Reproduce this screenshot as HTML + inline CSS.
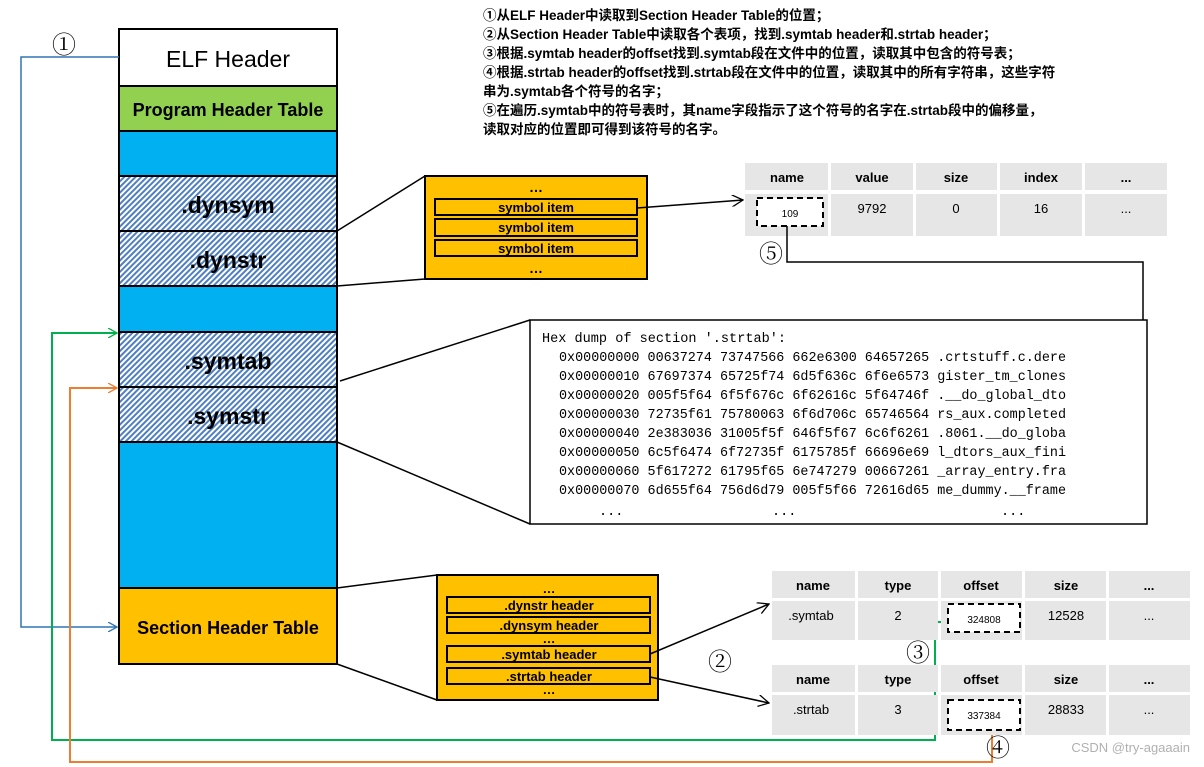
<!DOCTYPE html>
<html><head><meta charset="utf-8"><style>
html,body{margin:0;padding:0;background:#fff;}
svg{display:block;}
.cj{font-family:"Liberation Sans","Noto Sans CJK SC",sans-serif;font-weight:bold;font-size:13.5px;fill:#000;}
.mono{font-family:"Liberation Mono","Noto Sans CJK SC",monospace;font-size:13.5px;fill:#000;}
.b{font-family:"Liberation Sans",sans-serif;font-weight:bold;fill:#000;}
.n{font-family:"Liberation Sans",sans-serif;fill:#000;}
.circ{font-family:"Liberation Serif","Noto Serif CJK SC",serif;font-size:24px;fill:#000;}
</style></head><body>
<svg width="1204" height="767" viewBox="0 0 1204 767" xmlns="http://www.w3.org/2000/svg">
<defs>
<pattern id="h" width="4" height="4" patternUnits="userSpaceOnUse" patternTransform="rotate(45)">
<rect width="4" height="4" fill="#fff"/><rect width="2" height="4" fill="#4f7fc0"/>
</pattern>
<marker id="ab" markerWidth="10" markerHeight="10" refX="9" refY="5" orient="auto" markerUnits="userSpaceOnUse"><path d="M0,0 L9,5 L0,10" fill="none" stroke="#2e75b6" stroke-width="1.3"/></marker>
<marker id="ag" markerWidth="10" markerHeight="10" refX="9" refY="5" orient="auto" markerUnits="userSpaceOnUse"><path d="M0,0 L9,5 L0,10" fill="none" stroke="#00b050" stroke-width="1.3"/></marker>
<marker id="ao" markerWidth="10" markerHeight="10" refX="9" refY="5" orient="auto" markerUnits="userSpaceOnUse"><path d="M0,0 L9,5 L0,10" fill="none" stroke="#ed7d31" stroke-width="1.3"/></marker>
<marker id="ak" markerWidth="12" markerHeight="12" refX="11" refY="6" orient="auto" markerUnits="userSpaceOnUse"><path d="M0,0 L11,6 L0,12" fill="none" stroke="#000" stroke-width="1.3"/></marker>
<marker id="af" markerWidth="10" markerHeight="10" refX="9" refY="5" orient="auto" markerUnits="userSpaceOnUse"><path d="M0,1 L9,5 L0,9 z" fill="#000"/></marker>
</defs>

<!-- top text -->
<text class="cj" x="483" y="20">①从ELF Header中读取到Section Header Table的位置；</text>
<text class="cj" x="483" y="39">②从Section Header Table中读取各个表项，找到.symtab header和.strtab header；</text>
<text class="cj" x="483" y="58">③根据.symtab header的offset找到.symtab段在文件中的位置，读取其中包含的符号表；</text>
<text class="cj" x="483" y="77">④根据.strtab header的offset找到.strtab段在文件中的位置，读取其中的所有字符串，这些字符</text>
<text class="cj" x="483" y="96">串为.symtab各个符号的名字；</text>
<text class="cj" x="483" y="115">⑤在遍历.symtab中的符号表时，其name字段指示了这个符号的名字在.strtab段中的偏移量，</text>
<text class="cj" x="483" y="134">读取对应的位置即可得到该符号的名字。</text>

<!-- main column -->
<g stroke="#000" stroke-width="2">
<rect x="119" y="29" width="218" height="57" fill="#fff"/>
<rect x="119" y="86" width="218" height="45" fill="#92d050"/>
<rect x="119" y="131" width="218" height="45" fill="#00b0f0"/>
<rect x="119" y="176" width="218" height="55" fill="url(#h)"/>
<rect x="119" y="231" width="218" height="55" fill="url(#h)"/>
<rect x="119" y="286" width="218" height="46" fill="#00b0f0"/>
<rect x="119" y="332" width="218" height="55" fill="url(#h)"/>
<rect x="119" y="387" width="218" height="55" fill="url(#h)"/>
<rect x="119" y="442" width="218" height="146" fill="#00b0f0"/>
<rect x="119" y="588" width="218" height="76" fill="#ffc000"/>
</g>
<text class="n" x="228" y="67" font-size="23" text-anchor="middle">ELF Header</text>
<text class="b" x="228" y="116" font-size="18" text-anchor="middle">Program Header Table</text>
<text class="b" x="228" y="213" font-size="23" text-anchor="middle">.dynsym</text>
<text class="b" x="228" y="268" font-size="23" text-anchor="middle">.dynstr</text>
<text class="b" x="228" y="369" font-size="23" text-anchor="middle">.symtab</text>
<text class="b" x="228" y="424" font-size="23" text-anchor="middle">.symstr</text>
<text class="b" x="228" y="634" font-size="18" text-anchor="middle">Section Header Table</text>

<!-- colored connectors -->
<polyline points="119,57 21,57 21,627 117,627" fill="none" stroke="#2e75b6" stroke-width="1.5" marker-end="url(#ab)"/>
<text class="circ" x="52" y="53">①</text>
<polyline points="950,622 935,622 935,740 52,740 52,333 117,333" fill="none" stroke="#00b050" stroke-width="2" marker-end="url(#ag)"/>
<polyline points="992,730 992,762 70,762 70,388 117,388" fill="none" stroke="#ed7d31" stroke-width="2" marker-end="url(#ao)"/>

<!-- symbol box -->
<line x1="337" y1="231" x2="425" y2="176" stroke="#000" stroke-width="1.5"/>
<line x1="337" y1="286" x2="425" y2="279" stroke="#000" stroke-width="1.5"/>
<rect x="425" y="176" width="222" height="103" fill="#ffc000" stroke="#000" stroke-width="2"/>
<text class="b" x="536" y="192" font-size="14" text-anchor="middle">…</text>
<g stroke="#000" stroke-width="2" fill="#ffc000">
<rect x="435" y="199" width="202" height="16"/>
<rect x="435" y="219" width="202" height="17"/>
<rect x="435" y="240" width="202" height="16"/>
</g>
<text class="b" x="536" y="212" font-size="13" text-anchor="middle">symbol item</text>
<text class="b" x="536" y="232" font-size="13" text-anchor="middle">symbol item</text>
<text class="b" x="536" y="253" font-size="13" text-anchor="middle">symbol item</text>
<text class="b" x="536" y="273" font-size="14" text-anchor="middle">…</text>
<line x1="637" y1="208" x2="743" y2="200" stroke="#000" stroke-width="1.5" marker-end="url(#ak)"/>

<!-- symbol table -->
<g fill="#e7e6e6">
<rect x="745" y="163" width="83" height="27"/><rect x="831" y="163" width="82" height="27"/><rect x="916" y="163" width="81" height="27"/><rect x="1000" y="163" width="82" height="27"/><rect x="1085" y="163" width="82" height="27"/>
<rect x="745" y="194" width="83" height="42"/><rect x="831" y="194" width="82" height="42"/><rect x="916" y="194" width="81" height="42"/><rect x="1000" y="194" width="82" height="42"/><rect x="1085" y="194" width="82" height="42"/>
</g>
<g class="b" font-size="13" text-anchor="middle">
<text x="787" y="182">name</text><text x="872" y="182">value</text><text x="956" y="182">size</text><text x="1041" y="182">index</text><text x="1126" y="182">...</text>
</g>
<g class="n" font-size="13" text-anchor="middle">
<text x="872" y="213">9792</text><text x="956" y="213">0</text><text x="1041" y="213">16</text><text x="1126" y="213">...</text>
</g>
<rect x="757" y="198" width="66" height="28" fill="#fff" stroke="#000" stroke-width="2" stroke-dasharray="6,4"/>
<text class="n" x="790" y="217" font-size="10" text-anchor="middle">109</text>
<polyline points="787,226 787,262 1143,262 1143,470 1075,470" fill="none" stroke="#000" stroke-width="1.5" marker-end="url(#af)"/>
<text class="circ" x="759" y="262">⑤</text>

<!-- hex box -->
<line x1="340" y1="381" x2="530" y2="320" stroke="#000" stroke-width="1.5"/>
<line x1="337" y1="442" x2="530" y2="524" stroke="#000" stroke-width="1.5"/>
<rect x="530" y="320" width="617" height="204" fill="#fff" stroke="#000" stroke-width="1.5"/>
<g class="mono">
<text x="542" y="342" textLength="244" lengthAdjust="spacingAndGlyphs">Hex dump of section '.strtab':</text>
<text x="559" y="361" textLength="507" lengthAdjust="spacingAndGlyphs">0x00000000 00637274 73747566 662e6300 64657265 .crtstuff.c.dere</text>
<text x="559" y="380" textLength="507" lengthAdjust="spacingAndGlyphs">0x00000010 67697374 65725f74 6d5f636c 6f6e6573 gister_tm_clones</text>
<text x="559" y="399" textLength="507" lengthAdjust="spacingAndGlyphs">0x00000020 005f5f64 6f5f676c 6f62616c 5f64746f .__do_global_dto</text>
<text x="559" y="418" textLength="507" lengthAdjust="spacingAndGlyphs">0x00000030 72735f61 75780063 6f6d706c 65746564 rs_aux.completed</text>
<text x="559" y="437" textLength="507" lengthAdjust="spacingAndGlyphs">0x00000040 2e383036 31005f5f 646f5f67 6c6f6261 .8061.__do_globa</text>
<text x="559" y="456" textLength="507" lengthAdjust="spacingAndGlyphs">0x00000050 6c5f6474 6f72735f 6175785f 66696e69 l_dtors_aux_fini</text>
<text x="559" y="475" textLength="507" lengthAdjust="spacingAndGlyphs">0x00000060 5f617272 61795f65 6e747279 00667261 _array_entry.fra</text>
<text x="559" y="494" textLength="507" lengthAdjust="spacingAndGlyphs">0x00000070 6d655f64 756d6d79 005f5f66 72616d65 me_dummy.__frame</text>
<text x="599" y="515">...</text><text x="772" y="515">...</text><text x="1001" y="515">...</text>
</g>

<!-- section header box -->
<line x1="337" y1="588" x2="437" y2="575" stroke="#000" stroke-width="1.5"/>
<line x1="337" y1="664" x2="437" y2="700" stroke="#000" stroke-width="1.5"/>
<rect x="437" y="575" width="221" height="125" fill="#ffc000" stroke="#000" stroke-width="2"/>
<g stroke="#000" stroke-width="2" fill="#ffc000">
<rect x="447" y="597" width="203" height="16"/>
<rect x="447" y="617" width="203" height="16"/>
<rect x="447" y="646" width="203" height="16"/>
<rect x="447" y="668" width="203" height="16"/>
</g>
<g class="b" font-size="13" text-anchor="middle">
<text x="549" y="593">…</text>
<text x="549" y="610">.dynstr header</text>
<text x="549" y="630">.dynsym header</text>
<text x="549" y="643">…</text>
<text x="549" y="659">.symtab header</text>
<text x="549" y="681">.strtab header</text>
<text x="549" y="694">…</text>
</g>
<line x1="650" y1="654" x2="769" y2="604" stroke="#000" stroke-width="1.5" marker-end="url(#ak)"/>
<line x1="650" y1="677" x2="769" y2="703" stroke="#000" stroke-width="1.5" marker-end="url(#ak)"/>
<text class="circ" x="708" y="670">②</text>

<!-- section tables -->
<g fill="#e7e6e6">
<rect x="772" y="571" width="83" height="27"/><rect x="858" y="571" width="80" height="27"/><rect x="941" y="571" width="81" height="27"/><rect x="1025" y="571" width="81" height="27"/><rect x="1109" y="571" width="81" height="27"/>
<rect x="772" y="601" width="83" height="39"/><rect x="858" y="601" width="80" height="39"/><rect x="941" y="601" width="81" height="39"/><rect x="1025" y="601" width="81" height="39"/><rect x="1109" y="601" width="81" height="39"/>
<rect x="772" y="665" width="83" height="27"/><rect x="858" y="665" width="80" height="27"/><rect x="941" y="665" width="81" height="27"/><rect x="1025" y="665" width="81" height="27"/><rect x="1109" y="665" width="81" height="27"/>
<rect x="772" y="695" width="83" height="40"/><rect x="858" y="695" width="80" height="40"/><rect x="941" y="695" width="81" height="40"/><rect x="1025" y="695" width="81" height="40"/><rect x="1109" y="695" width="81" height="40"/>
</g>
<g class="b" font-size="13" text-anchor="middle">
<text x="813" y="590">name</text><text x="898" y="590">type</text><text x="981" y="590">offset</text><text x="1066" y="590">size</text><text x="1149" y="590">...</text>
<text x="813" y="684">name</text><text x="898" y="684">type</text><text x="981" y="684">offset</text><text x="1066" y="684">size</text><text x="1149" y="684">...</text>
</g>
<g class="n" font-size="13" text-anchor="middle">
<text x="811" y="620">.symtab</text><text x="898" y="620">2</text><text x="1066" y="620">12528</text><text x="1149" y="620">...</text>
<text x="811" y="714">.strtab</text><text x="898" y="714">3</text><text x="1066" y="714">28833</text><text x="1149" y="714">...</text>
</g>
<rect x="948" y="604" width="72" height="28" fill="#fff" stroke="#000" stroke-width="2" stroke-dasharray="6,4"/>
<text class="n" x="984" y="623" font-size="10" text-anchor="middle">324808</text>
<rect x="948" y="700" width="72" height="30" fill="#fff" stroke="#000" stroke-width="2" stroke-dasharray="6,4"/>
<text class="n" x="984" y="719" font-size="10" text-anchor="middle">337384</text>
<text class="circ" x="906" y="661">③</text>
<text class="circ" x="986" y="756">④</text>
<text class="n" x="1190" y="752" font-size="13" fill="#b0b0b0" text-anchor="end" style="fill:#b0b0b0">CSDN @try-agaaain</text>
</svg>
</body></html>
